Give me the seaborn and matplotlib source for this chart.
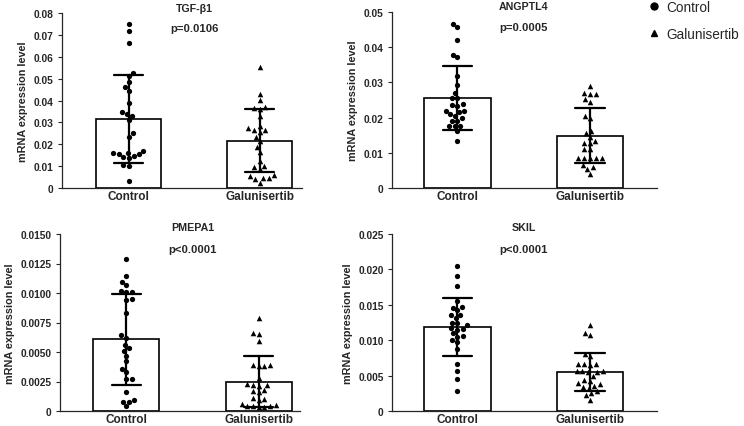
import matplotlib
matplotlib.use("Agg")
import matplotlib.pyplot as plt
from matplotlib.lines import Line2D
import pandas as pd
import seaborn as sns

groups = ["Control", "Galunisertib"]

tgfb1_control = [0.0750, 0.0719, 0.0661, 0.0526, 0.0511, 0.0483, 0.0463, 0.0445, 0.0390,
                 0.0338, 0.0349, 0.0331, 0.0312, 0.0251, 0.0235, 0.0168, 0.0160, 0.0154,
                 0.0145, 0.0136, 0.0140, 0.0155, 0.0160, 0.0107, 0.0102, 0.0034]
tgfb1_galunisertib = [0.0552, 0.0430, 0.0404, 0.0369, 0.0361, 0.0364, 0.0331, 0.0274, 0.0265,
                      0.0258, 0.0265, 0.0285, 0.0216, 0.0235, 0.0186, 0.0163, 0.0125, 0.0098,
                      0.0102, 0.0087, 0.0053, 0.0046, 0.0059, 0.0041, 0.0044, 0.0023]

angptl4_control = [0.0458, 0.0465, 0.0421, 0.0371, 0.0378, 0.0319, 0.0292, 0.0269, 0.0255,
                   0.0255, 0.0233, 0.0235, 0.0238, 0.0219, 0.0217, 0.0218, 0.0205, 0.0200,
                   0.0210, 0.0191, 0.0191, 0.0177, 0.0177, 0.0176, 0.0163, 0.0133]
angptl4_galunisertib = [0.0290, 0.0266, 0.0269, 0.0266, 0.0245, 0.0252, 0.0205, 0.0198, 0.0163,
                        0.0155, 0.0144, 0.0134, 0.0128, 0.0129, 0.0111, 0.0112, 0.0085, 0.0085,
                        0.0084, 0.0085, 0.0084, 0.0065, 0.0059, 0.0054, 0.0040]

pmepa1_control = [0.01288, 0.01146, 0.0109, 0.01067, 0.0101, 0.0101, 0.0102, 0.0094, 0.0095,
                  0.0083, 0.0064, 0.0062, 0.0053, 0.0056, 0.0051, 0.0047, 0.0042, 0.0036,
                  0.0033, 0.0027, 0.0027, 0.0016, 0.0008, 0.0009, 0.0008, 0.0004]
pmepa1_galunisertib = [0.0079, 0.0066, 0.0065, 0.0059, 0.0039, 0.0039, 0.0038, 0.0038, 0.0028,
                       0.0023, 0.0022, 0.0022, 0.0021, 0.0018, 0.0017, 0.0016, 0.0011, 0.0010,
                       0.0009, 0.0006, 0.0005, 0.0004, 0.0004, 0.0003, 0.0003, 0.0004]

skil_control = [0.0205, 0.0191, 0.0177, 0.0146, 0.0147, 0.0155, 0.0142, 0.0135, 0.0135,
                0.0131, 0.0125, 0.0124, 0.0121, 0.0117, 0.0116, 0.0115, 0.0110, 0.0105,
                0.0106, 0.0100, 0.0097, 0.0088, 0.0067, 0.0057, 0.0045, 0.0028]
skil_galunisertib = [0.0122, 0.0110, 0.0107, 0.0080, 0.0077, 0.0066, 0.0066, 0.0065, 0.0066,
                     0.0057, 0.0057, 0.0056, 0.0055, 0.0055, 0.0050, 0.0044, 0.0043, 0.0039,
                     0.0038, 0.0035, 0.0034, 0.0033, 0.0028, 0.0026, 0.0022, 0.0016]

genes = ["TGF-β1", "ANGPTL4", "PMEPA1", "SKIL"]
p_values = ["p=0.0106", "p=0.0005", "p<0.0001", "p<0.0001"]
y_max = [0.08, 0.05, 0.015, 0.025]
y_step = [0.01, 0.01, 0.0025, 0.005]
y_decimals = [2, 2, 4, 3]

gene_data = {
    "TGF-β1": (tgfb1_control, tgfb1_galunisertib),
    "ANGPTL4": (angptl4_control, angptl4_galunisertib),
    "PMEPA1": (pmepa1_control, pmepa1_galunisertib),
    "SKIL": (skil_control, skil_galunisertib),
}

rows = []
for gene, (ctrl, galu) in gene_data.items():
    rows += [(gene, "Control", v) for v in ctrl]
    rows += [(gene, "Galunisertib", v) for v in galu]
df = pd.DataFrame(rows, columns=["gene", "group", "value"])

sns.set_style("ticks")
plt.rcParams["font.family"] = ["Liberation Sans", "DejaVu Sans"]
plt.rcParams["font.weight"] = "bold"
plt.rcParams["axes.linewidth"] = 0.9

W, H = 744, 427
fig = plt.figure(figsize=(W / 100, H / 100), dpi=100)

# axes boxes in pixels: left, right, top, bottom
boxes = [(62, 302, 14, 189), (392, 657, 13, 189), (60, 300, 235, 412), (392, 657, 235, 412)]
xlims = [(-0.508, 1.324), (-0.494, 1.506), (-0.503, 1.314), (-0.494, 1.506)]
title_y = [1.03, 1.035, 1.04, 1.04]

for i, gene in enumerate(genes):
    l, r, t, b = boxes[i]
    ax = fig.add_axes([l / W, 1 - b / H, (r - l) / W, (b - t) / H])
    sub = df[df["gene"] == gene]

    sns.barplot(data=sub, x="group", y="value", order=groups, estimator="mean",
                errorbar="sd", width=0.5, color="white", saturation=1,
                edgecolor="black", linewidth=1.2, capsize=0.22,
                err_kws={"color": "black", "linewidth": 1.6}, ax=ax)
    sns.swarmplot(data=sub[sub["group"] == "Control"], x="group", y="value", order=groups,
                  color="black", marker="o", size=3.8, ax=ax, zorder=4)
    sns.swarmplot(data=sub[sub["group"] == "Galunisertib"], x="group", y="value", order=groups,
                  color="black", marker="^", size=4.0, ax=ax, zorder=4)

    ax.set_xlim(*xlims[i])
    ax.set_ylim(0, y_max[i])
    n = int(round(y_max[i] / y_step[i]))
    ticks = [k * y_step[i] for k in range(n + 1)]
    ax.set_yticks(ticks)
    ax.set_yticklabels(["0" if k == 0 else f"{v:.{y_decimals[i]}f}" for k, v in enumerate(ticks)])
    ax.tick_params(axis="y", labelsize=7.4, length=3, width=0.8, pad=3)
    ax.tick_params(axis="x", labelsize=8.5, length=0, pad=1.5)
    for lab in ax.get_xticklabels() + ax.get_yticklabels():
        lab.set_fontweight("bold")
    ax.set_xlabel("")
    ax.set_ylabel("mRNA expression level", fontsize=7.8, fontweight="bold", labelpad=4)
    sns.despine(ax=ax)

    ax.text(0.5, title_y[i], gene, transform=ax.get_xaxis_transform(), ha="center",
            va="center", fontsize=7.7, fontweight="bold")
    ax.text(0.5, 0.915, p_values[i], transform=ax.get_xaxis_transform(), ha="center",
            va="center", fontsize=8.1, fontweight="bold")

handles = [Line2D([], [], marker="o", color="black", linestyle="none", markersize=5),
           Line2D([], [], marker="^", color="black", linestyle="none", markersize=5)]
leg = fig.legend(handles, groups, loc="upper left", bbox_to_anchor=(636 / W, 1.026),
                 frameon=False, handlelength=0.8, handletextpad=0.5, labelspacing=0.95,
                 prop={"size": 9.8, "weight": "normal"})

fig.savefig("out.png", dpi=100)
